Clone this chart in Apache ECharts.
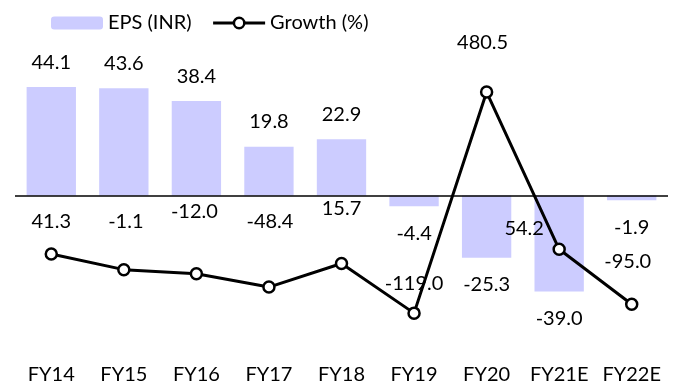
<!DOCTYPE html>
<html>
<head>
<meta charset="utf-8">
<script src="https://cdn.jsdelivr.net/npm/echarts@6/dist/echarts.min.js"></script>
<style>
  html, body { margin: 0; padding: 0; background: #fff; }
  #chart { width: 684px; height: 385px; }
</style>
</head>
<body>
<div id="chart"></div>
<script>
// Fiscal years on the category axis
const years = ['FY14', 'FY15', 'FY16', 'FY17', 'FY18', 'FY19', 'FY20', 'FY21E', 'FY22E'];
// Earnings per share, INR
const eps = [44.1, 43.6, 38.4, 19.8, 22.9, -4.4, -25.3, -39.0, -1.9];
// Year-on-year EPS growth, %
const growth = [41.3, -1.1, -12.0, -48.4, 15.7, -119.0, 480.5, 54.2, -95.0];

// Hand-placed growth label nudges (px, relative to each point)
const growthLabelNudge = [[0, -32], [2, -48], [-2, -62], [1, -66], [0, -55], [0, -30], [-4, -50], [-35, -21], [-4, -43]];

const FONT = 'Lato';
const FS = 20;

const chart = echarts.init(document.getElementById('chart'), null, { renderer: 'canvas' });

const barData = eps.map(v => ({
  value: v,
  label: { position: v < 0 ? 'bottom' : 'top', distance: v < 0 ? 17 : 15 }
}));

const lineData = growth.map((v, i) => ({
  value: v,
  label: { offset: growthLabelNudge[i] }
}));

chart.setOption({
  animation: false,
  textStyle: { fontFamily: FONT, color: '#000' },
  legend: {
    left: 46,
    top: 8,
    itemWidth: 52,
    itemHeight: 13,
    itemGap: 20,
    textStyle: { fontFamily: FONT, fontSize: FS, color: '#000' },
    data: [
      { name: 'EPS (INR)' },
      {
        name: 'Growth (%)',
        itemStyle: { color: '#fff', borderColor: '#000', borderWidth: 2.5 },
        lineStyle: { color: '#000', width: 3 }
      }
    ]
  },
  grid: { left: 15, right: 16, top: 48, bottom: 41, containLabel: false },
  xAxis: {
    type: 'category',
    data: years,
    axisLine: { show: false },
    axisTick: { show: false },
    axisLabel: { interval: 0, margin: 22, fontFamily: FONT, fontSize: FS, color: '#000' },
    splitLine: { show: false }
  },
  yAxis: [
    { type: 'value', min: -60, max: 60, show: false, splitLine: { show: false } },
    { type: 'value', min: -200, max: 600, show: false, splitLine: { show: false } }
  ],
  series: [
    {
      name: 'EPS (INR)',
      type: 'bar',
      yAxisIndex: 0,
      data: barData,
      barCategoryGap: '32%',
      itemStyle: { color: '#CCCCFF' },
      label: {
        show: true,
        fontFamily: FONT,
        fontSize: FS,
        color: '#000',
        formatter: p => p.value.toFixed(1)
      },
      markLine: {
        silent: true,
        symbol: ['none', 'none'],
        label: { show: false },
        lineStyle: { color: '#000', width: 1.5, type: 'solid' },
        data: [{ yAxis: 0 }]
      },
      z: 2
    },
    {
      name: 'Growth (%)',
      type: 'line',
      yAxisIndex: 1,
      data: lineData,
      symbol: 'circle',
      symbolSize: 11,
      lineStyle: { color: '#000', width: 3 },
      itemStyle: { color: '#fff', borderColor: '#000', borderWidth: 2.5 },
      label: {
        show: true,
        position: 'inside',
        fontFamily: FONT,
        fontSize: FS,
        color: '#000',
        formatter: p => p.value.toFixed(1)
      },
      z: 5
    }
  ]
});
</script>
</body>
</html>
